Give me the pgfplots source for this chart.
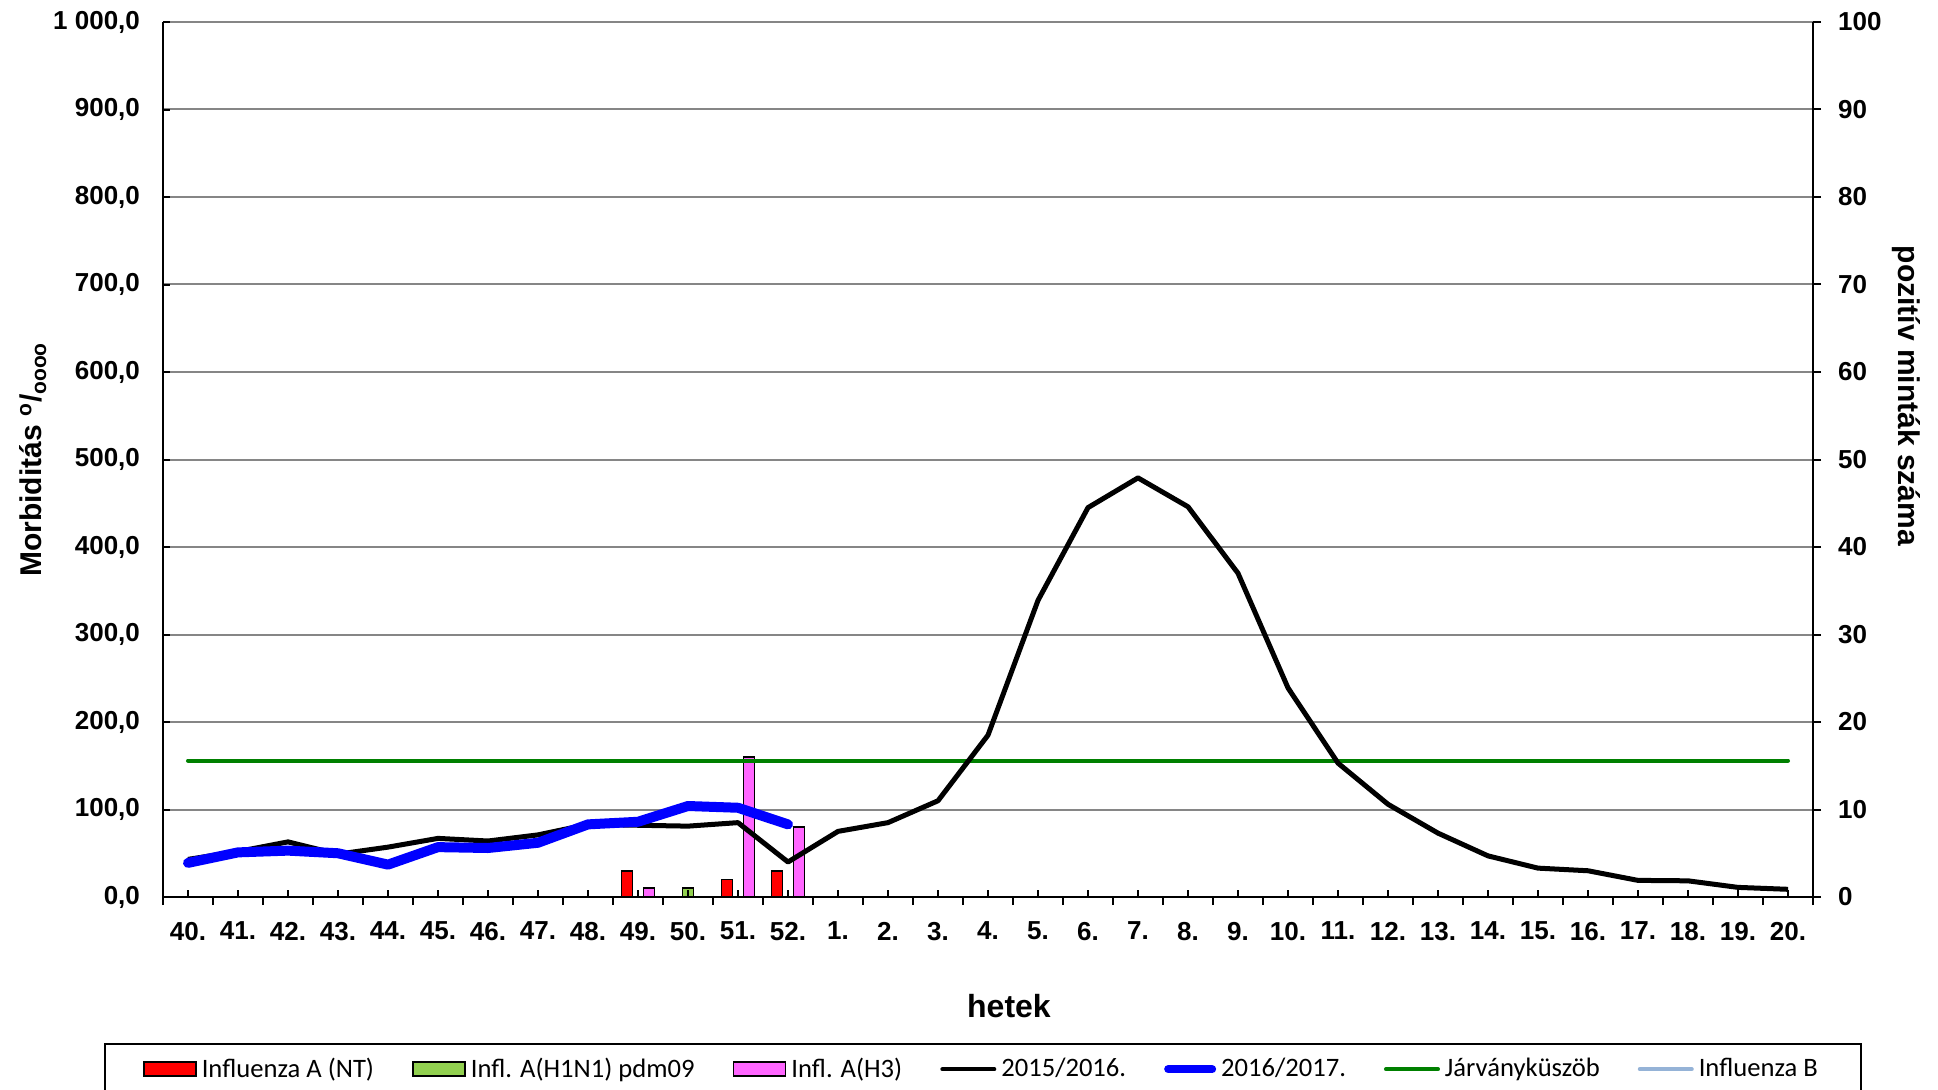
\documentclass[border=0pt]{standalone}
\usepackage{fontspec}
\setmainfont{Liberation Sans}
\newfontfamily\legendfont{Carlito}
\usepackage{pgfplots}
\pgfplotsset{compat=1.18}

\definecolor{infA}{HTML}{FF0000}
\definecolor{hone}{HTML}{92D050}
\definecolor{hthree}{HTML}{FF66FF}
\definecolor{thresh}{HTML}{008000}
\definecolor{infB}{HTML}{95B3D7}
\definecolor{gridgray}{HTML}{868686}

\pgfplotsset{
  chartbase/.style={
    scale only axis, width=825pt, height=437.5pt,
    at={(0,0)}, anchor=south west,
    xmin=-0.5, xmax=32.5,
    axis line style={line width=1pt},
    every tick/.style={black, line width=1pt},
    tick label style={font=\bfseries\fontsize{13}{15}\selectfont},
  },
}

\begin{document}
\begin{tikzpicture}
\path[use as bounding box] (-81.5pt,-96pt) rectangle (887.5pt,448.5pt);

% bars, right axis (positive samples)
\begin{axis}[chartbase,
  axis y line*=right, axis x line*=bottom,
  ymin=0, ymax=100,
  ytick={0,10,...,100},
  yticklabels={0,10,20,30,40,50,60,70,80,90,100},
  yticklabel style={xshift=5pt},
  xtick={-0.5,0.5,...,32.5}, xticklabels={},
  tick align=outside, major tick length=4pt,
  ymajorgrids, grid style={gridgray, line width=1pt},
  ybar=0pt, bar width=5.5pt,
  ylabel={pozitív minták száma},
  ylabel style={font=\bfseries\fontsize{15}{18}\selectfont,
    at={(axis description cs:1.0564,0.5726)}, anchor=center, rotate=180},
]
\addplot[fill=infA, draw=black, line width=0.9pt] coordinates {(9,3) (11,2) (12,3)};
\addplot[fill=hone, draw=black, line width=0.9pt] coordinates {(10,1)};
\addplot[fill=hthree, draw=black, line width=0.9pt] coordinates {(9,1) (11,16) (12,8)};
\end{axis}

% lines, left axis (morbidity)
\begin{axis}[chartbase,
  axis y line*=left, axis x line*=bottom,
  ymin=0, ymax=1000,
  ytick={0,100,...,1000},
  yticklabels={{0,0},{100,0},{200,0},{300,0},{400,0},{500,0},{600,0},{700,0},{800,0},{900,0},{1 000,0}},
  yticklabel style={xshift=-8pt},
  xtick={0,...,32},
  xticklabels={40.,41.,42.,43.,44.,45.,46.,47.,48.,49.,50.,51.,52.,1.,2.,3.,4.,5.,6.,7.,8.,9.,10.,11.,12.,13.,14.,15.,16.,17.,18.,19.,20.},
  xticklabel style={yshift=-9pt},
  tick align=inside, major tick length=3.5pt,
  xlabel={hetek},
  xlabel style={font=\bfseries\fontsize{16}{19}\selectfont,
    at={(axis description cs:0.5127,-0.1246)}, anchor=center},
  ylabel={Morbiditás \textsuperscript{o}/\textsubscript{oooo}},
  ylabel style={font=\bfseries\fontsize{15}{18}\selectfont,
    at={(axis description cs:-0.0788,0.5)}, anchor=center},
  legend columns=7,
  legend style={at={(-0.03576,-0.16686)}, anchor=north west,
    draw=black, line width=1pt, inner xsep=19pt, inner ysep=5pt,
    font=\legendfont\fontsize{13.3}{15}\selectfont,
    nodes={inner xsep=2.5pt},
    /tikz/every even column/.append style={column sep=16.5pt}},
]
\addlegendimage{legend image code/.code={\draw[fill=infA,draw=black,line width=0.9pt] (0pt,-3.5pt) rectangle (26pt,3.5pt);}}
\addlegendentry{Influenza A (NT)}
\addlegendimage{legend image code/.code={\draw[fill=hone,draw=black,line width=0.9pt] (0pt,-3.5pt) rectangle (26pt,3.5pt);}}
\addlegendentry{Infl. A(H1N1) pdm09}
\addlegendimage{legend image code/.code={\draw[fill=hthree,draw=black,line width=0.9pt] (0pt,-3.5pt) rectangle (26pt,3.5pt);}}
\addlegendentry{Infl. A(H3)}
\addlegendimage{legend image code/.code={\draw[black,line width=2pt,line cap=round] (0pt,0pt) -- (26pt,0pt);}}
\addlegendentry{2015/2016.}
\addlegendimage{legend image code/.code={\draw[blue,line width=4pt,line cap=round] (2pt,0pt) -- (24pt,0pt);}}
\addlegendentry{2016/2017.}
\addlegendimage{legend image code/.code={\draw[thresh,line width=2pt,line cap=round] (0pt,0pt) -- (26pt,0pt);}}
\addlegendentry{Járványküszöb}
\addlegendimage{legend image code/.code={\draw[infB,line width=2pt,line cap=round] (0pt,0pt) -- (26pt,0pt);}}
\addlegendentry{Influenza B}

% epidemic threshold
\addplot[forget plot, thresh, line width=2pt, line cap=round] coordinates {(0,156) (32,156)};
% season 2015/2016
\addplot[forget plot, black, line width=2.5pt, line join=round] coordinates {
  (0,43) (1,52) (2,63) (3,49) (4,57) (5,67) (6,64) (7,71) (8,83) (9,82)
  (10,81) (11,85) (12,40) (13,75) (14,85) (15,110) (16,185) (17,339) (18,445) (19,479)
  (20,446) (21,370) (22,239) (23,153) (24,106) (25,73) (26,47) (27,33) (28,30) (29,19)
  (30,18.5) (31,11) (32,8.8)};
% season 2016/2017
\addplot[forget plot, blue, line width=5pt, line join=round, line cap=round] coordinates {
  (0,39) (1,51) (2,53) (3,50) (4,37) (5,57) (6,56) (7,62) (8,83) (9,86)
  (10,104) (11,102) (12,83)};
\end{axis}
\end{tikzpicture}
\end{document}
